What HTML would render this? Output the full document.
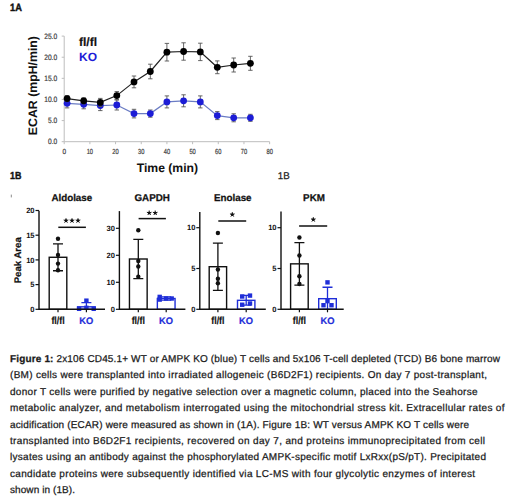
<!DOCTYPE html>
<html><head><meta charset="utf-8"><style>
html,body{margin:0;padding:0;background:#fff;width:520px;height:499px;overflow:hidden}
svg{display:block;font-family:"Liberation Sans", sans-serif;text-rendering:geometricPrecision}
</style></head><body>
<svg width="520" height="499" viewBox="0 0 520 499">
<text x="10" y="11.3" font-size="10.6" font-weight="bold" fill="#111" stroke="#111" stroke-width="0.45" textLength="11.8" lengthAdjust="spacingAndGlyphs">1A</text>
<line x1="64.2" y1="36.1" x2="64.2" y2="141.7" stroke="#bdbdbd" stroke-width="1"/>
<line x1="64.2" y1="141.7" x2="269.6" y2="141.7" stroke="#bdbdbd" stroke-width="1"/>
<line x1="61.7" y1="141.70" x2="64.2" y2="141.70" stroke="#bdbdbd" stroke-width="1"/>
<text x="57.2" y="144.40" font-size="7.8" text-anchor="end" fill="#3c3c3c" stroke="#3c3c3c" stroke-width="0.2" textLength="9.2" lengthAdjust="spacingAndGlyphs">0.0</text>
<line x1="61.7" y1="120.58" x2="64.2" y2="120.58" stroke="#bdbdbd" stroke-width="1"/>
<text x="57.2" y="123.28" font-size="7.8" text-anchor="end" fill="#3c3c3c" stroke="#3c3c3c" stroke-width="0.2" textLength="9.2" lengthAdjust="spacingAndGlyphs">5.0</text>
<line x1="61.7" y1="99.46" x2="64.2" y2="99.46" stroke="#bdbdbd" stroke-width="1"/>
<text x="57.2" y="102.16" font-size="7.8" text-anchor="end" fill="#3c3c3c" stroke="#3c3c3c" stroke-width="0.2" textLength="13" lengthAdjust="spacingAndGlyphs">10.0</text>
<line x1="61.7" y1="78.34" x2="64.2" y2="78.34" stroke="#bdbdbd" stroke-width="1"/>
<text x="57.2" y="81.04" font-size="7.8" text-anchor="end" fill="#3c3c3c" stroke="#3c3c3c" stroke-width="0.2" textLength="13" lengthAdjust="spacingAndGlyphs">15.0</text>
<line x1="61.7" y1="57.22" x2="64.2" y2="57.22" stroke="#bdbdbd" stroke-width="1"/>
<text x="57.2" y="59.92" font-size="7.8" text-anchor="end" fill="#3c3c3c" stroke="#3c3c3c" stroke-width="0.2" textLength="13" lengthAdjust="spacingAndGlyphs">20.0</text>
<line x1="61.7" y1="36.10" x2="64.2" y2="36.10" stroke="#bdbdbd" stroke-width="1"/>
<text x="57.2" y="38.80" font-size="7.8" text-anchor="end" fill="#3c3c3c" stroke="#3c3c3c" stroke-width="0.2" textLength="13" lengthAdjust="spacingAndGlyphs">25.0</text>
<line x1="64.20" y1="141.7" x2="64.20" y2="144.2" stroke="#bdbdbd" stroke-width="1"/>
<text x="62.40" y="154.0" font-size="7.4" fill="#3c3c3c" stroke="#3c3c3c" stroke-width="0.2" textLength="3.6" lengthAdjust="spacingAndGlyphs">0</text>
<line x1="89.88" y1="141.7" x2="89.88" y2="144.2" stroke="#bdbdbd" stroke-width="1"/>
<text x="86.68" y="154.0" font-size="7.4" fill="#3c3c3c" stroke="#3c3c3c" stroke-width="0.2" textLength="6.4" lengthAdjust="spacingAndGlyphs">10</text>
<line x1="115.56" y1="141.7" x2="115.56" y2="144.2" stroke="#bdbdbd" stroke-width="1"/>
<text x="112.36" y="154.0" font-size="7.4" fill="#3c3c3c" stroke="#3c3c3c" stroke-width="0.2" textLength="6.4" lengthAdjust="spacingAndGlyphs">20</text>
<line x1="141.24" y1="141.7" x2="141.24" y2="144.2" stroke="#bdbdbd" stroke-width="1"/>
<text x="138.04" y="154.0" font-size="7.4" fill="#3c3c3c" stroke="#3c3c3c" stroke-width="0.2" textLength="6.4" lengthAdjust="spacingAndGlyphs">30</text>
<line x1="166.92" y1="141.7" x2="166.92" y2="144.2" stroke="#bdbdbd" stroke-width="1"/>
<text x="163.72" y="154.0" font-size="7.4" fill="#3c3c3c" stroke="#3c3c3c" stroke-width="0.2" textLength="6.4" lengthAdjust="spacingAndGlyphs">40</text>
<line x1="192.60" y1="141.7" x2="192.60" y2="144.2" stroke="#bdbdbd" stroke-width="1"/>
<text x="189.40" y="154.0" font-size="7.4" fill="#3c3c3c" stroke="#3c3c3c" stroke-width="0.2" textLength="6.4" lengthAdjust="spacingAndGlyphs">50</text>
<line x1="218.28" y1="141.7" x2="218.28" y2="144.2" stroke="#bdbdbd" stroke-width="1"/>
<text x="215.08" y="154.0" font-size="7.4" fill="#3c3c3c" stroke="#3c3c3c" stroke-width="0.2" textLength="6.4" lengthAdjust="spacingAndGlyphs">60</text>
<line x1="243.96" y1="141.7" x2="243.96" y2="144.2" stroke="#bdbdbd" stroke-width="1"/>
<text x="240.76" y="154.0" font-size="7.4" fill="#3c3c3c" stroke="#3c3c3c" stroke-width="0.2" textLength="6.4" lengthAdjust="spacingAndGlyphs">70</text>
<line x1="269.64" y1="141.7" x2="269.64" y2="144.2" stroke="#bdbdbd" stroke-width="1"/>
<text x="266.44" y="154.0" font-size="7.4" fill="#3c3c3c" stroke="#3c3c3c" stroke-width="0.2" textLength="6.4" lengthAdjust="spacingAndGlyphs">80</text>
<text x="167.4" y="171.7" font-size="12.2" font-weight="bold" text-anchor="middle" fill="#111">Time (min)</text>
<text transform="translate(37.2,85.6) rotate(-90)" x="0" y="0" font-size="12.3" font-weight="bold" text-anchor="middle" fill="#111">ECAR (mpH/min)</text>
<text x="79" y="45.6" font-size="12" font-weight="bold" fill="#111" stroke="#111" stroke-width="0.2">fl/fl</text>
<text x="79" y="61.2" font-size="12" font-weight="bold" fill="#1c1cd6">KO</text>
<polyline points="67.1,103.3 83.7,104.3 100.3,105.6 116.8,105.0 134.0,113.6 150.3,113.6 166.9,101.9 183.6,100.8 200.3,101.9 217.3,115.6 233.7,117.8 250.4,117.8" fill="none" stroke="#6a7cc4" stroke-width="1.2"/>
<path d="M67.1,98.7V107.89999999999999M64.89999999999999,98.7H69.3M64.89999999999999,107.89999999999999H69.3" stroke="#555" stroke-width="0.9" fill="none"/>
<path d="M83.7,99.8V108.8M81.5,99.8H85.9M81.5,108.8H85.9" stroke="#555" stroke-width="0.9" fill="none"/>
<path d="M100.3,100.6V110.6M98.1,100.6H102.5M98.1,110.6H102.5" stroke="#555" stroke-width="0.9" fill="none"/>
<path d="M116.8,100.0V110.0M114.6,100.0H119.0M114.6,110.0H119.0" stroke="#555" stroke-width="0.9" fill="none"/>
<path d="M134.0,109.3V117.89999999999999M131.8,109.3H136.2M131.8,117.89999999999999H136.2" stroke="#555" stroke-width="0.9" fill="none"/>
<path d="M150.3,110.0V117.19999999999999M148.10000000000002,110.0H152.5M148.10000000000002,117.19999999999999H152.5" stroke="#555" stroke-width="0.9" fill="none"/>
<path d="M166.9,95.9V107.9M164.70000000000002,95.9H169.1M164.70000000000002,107.9H169.1" stroke="#555" stroke-width="0.9" fill="none"/>
<path d="M183.6,94.8V106.8M181.4,94.8H185.79999999999998M181.4,106.8H185.79999999999998" stroke="#555" stroke-width="0.9" fill="none"/>
<path d="M200.3,95.9V107.9M198.10000000000002,95.9H202.5M198.10000000000002,107.9H202.5" stroke="#555" stroke-width="0.9" fill="none"/>
<path d="M217.3,111.6V119.6M215.10000000000002,111.6H219.5M215.10000000000002,119.6H219.5" stroke="#555" stroke-width="0.9" fill="none"/>
<path d="M233.7,113.8V121.8M231.5,113.8H235.89999999999998M231.5,121.8H235.89999999999998" stroke="#555" stroke-width="0.9" fill="none"/>
<path d="M250.4,114.3V121.3M248.20000000000002,114.3H252.6M248.20000000000002,121.3H252.6" stroke="#555" stroke-width="0.9" fill="none"/>
<circle cx="67.1" cy="103.3" r="3.4" fill="#1c1cd6"/>
<circle cx="83.7" cy="104.3" r="3.4" fill="#1c1cd6"/>
<circle cx="100.3" cy="105.6" r="3.4" fill="#1c1cd6"/>
<circle cx="116.8" cy="105.0" r="3.4" fill="#1c1cd6"/>
<circle cx="134.0" cy="113.6" r="3.4" fill="#1c1cd6"/>
<circle cx="150.3" cy="113.6" r="3.4" fill="#1c1cd6"/>
<circle cx="166.9" cy="101.9" r="3.4" fill="#1c1cd6"/>
<circle cx="183.6" cy="100.8" r="3.4" fill="#1c1cd6"/>
<circle cx="200.3" cy="101.9" r="3.4" fill="#1c1cd6"/>
<circle cx="217.3" cy="115.6" r="3.4" fill="#1c1cd6"/>
<circle cx="233.7" cy="117.8" r="3.4" fill="#1c1cd6"/>
<circle cx="250.4" cy="117.8" r="3.4" fill="#1c1cd6"/>
<polyline points="67.1,98.6 83.7,100.8 100.3,102.4 116.8,95.6 134.0,81.9 150.3,71.5 166.9,52.2 183.6,51.5 200.3,51.9 217.3,67.3 233.7,65.0 250.4,63.3" fill="none" stroke="#222" stroke-width="1.2"/>
<path d="M67.1,95.6V101.6M64.89999999999999,95.6H69.3M64.89999999999999,101.6H69.3" stroke="#555" stroke-width="0.9" fill="none"/>
<path d="M83.7,97.8V103.8M81.5,97.8H85.9M81.5,103.8H85.9" stroke="#555" stroke-width="0.9" fill="none"/>
<path d="M100.3,98.4V106.4M98.1,98.4H102.5M98.1,106.4H102.5" stroke="#555" stroke-width="0.9" fill="none"/>
<path d="M116.8,91.6V99.6M114.6,91.6H119.0M114.6,99.6H119.0" stroke="#555" stroke-width="0.9" fill="none"/>
<path d="M134.0,76.0V87.80000000000001M131.8,76.0H136.2M131.8,87.80000000000001H136.2" stroke="#555" stroke-width="0.9" fill="none"/>
<path d="M150.3,64.2V78.8M148.10000000000002,64.2H152.5M148.10000000000002,78.8H152.5" stroke="#555" stroke-width="0.9" fill="none"/>
<path d="M166.9,43.400000000000006V61.0M164.70000000000002,43.400000000000006H169.1M164.70000000000002,61.0H169.1" stroke="#555" stroke-width="0.9" fill="none"/>
<path d="M183.6,42.8V60.2M181.4,42.8H185.79999999999998M181.4,60.2H185.79999999999998" stroke="#555" stroke-width="0.9" fill="none"/>
<path d="M200.3,43.2V60.599999999999994M198.10000000000002,43.2H202.5M198.10000000000002,60.599999999999994H202.5" stroke="#555" stroke-width="0.9" fill="none"/>
<path d="M217.3,60.9V73.7M215.10000000000002,60.9H219.5M215.10000000000002,73.7H219.5" stroke="#555" stroke-width="0.9" fill="none"/>
<path d="M233.7,58.0V72.0M231.5,58.0H235.89999999999998M231.5,72.0H235.89999999999998" stroke="#555" stroke-width="0.9" fill="none"/>
<path d="M250.4,56.3V70.3M248.20000000000002,56.3H252.6M248.20000000000002,70.3H252.6" stroke="#555" stroke-width="0.9" fill="none"/>
<circle cx="67.1" cy="98.6" r="3.4" fill="#000"/>
<circle cx="83.7" cy="100.8" r="3.4" fill="#000"/>
<circle cx="100.3" cy="102.4" r="3.4" fill="#000"/>
<circle cx="116.8" cy="95.6" r="3.4" fill="#000"/>
<circle cx="134.0" cy="81.9" r="3.4" fill="#000"/>
<circle cx="150.3" cy="71.5" r="3.4" fill="#000"/>
<circle cx="166.9" cy="52.2" r="3.4" fill="#000"/>
<circle cx="183.6" cy="51.5" r="3.4" fill="#000"/>
<circle cx="200.3" cy="51.9" r="3.4" fill="#000"/>
<circle cx="217.3" cy="67.3" r="3.4" fill="#000"/>
<circle cx="233.7" cy="65.0" r="3.4" fill="#000"/>
<circle cx="250.4" cy="63.3" r="3.4" fill="#000"/>
<text x="10" y="179" font-size="10.2" font-weight="bold" fill="#111" stroke="#111" stroke-width="0.4" textLength="11.4" lengthAdjust="spacingAndGlyphs">1B</text>
<rect x="10.8" y="194.6" width="1" height="2.8" fill="#8a8a8a"/>
<text x="277.8" y="179" font-size="9.8" fill="#222" stroke="#222" stroke-width="0.25">1B</text>
<text x="71.8" y="200.6" font-size="9.8" font-weight="bold" text-anchor="middle" fill="#111" stroke="#111" stroke-width="0.25">Aldolase</text>
<rect x="49.20" y="257.28" width="17.6" height="52.02" fill="#fff" stroke="#111" stroke-width="1.4"/>
<rect x="77.60" y="306.83" width="17.6" height="2.47" fill="#fff" stroke="#1f2ed8" stroke-width="1.4"/>
<path d="M58.0,243.80V270.77M53.0,243.80H63.0M53.0,270.77H63.0" stroke="#111" stroke-width="1.3" fill="none"/>
<path d="M86.4,302.63V309.30M81.4,302.63H91.4M81.4,309.30H91.4" stroke="#1f2ed8" stroke-width="1.3" fill="none"/>
<circle cx="58.0" cy="238.81" r="2.2" fill="#111"/>
<circle cx="58.0" cy="255.01" r="2.2" fill="#111"/>
<circle cx="58.0" cy="263.61" r="2.2" fill="#111"/>
<circle cx="58.0" cy="270.27" r="2.2" fill="#111"/>
<rect x="84.20" y="298.46" width="4.4" height="4.4" fill="#1f2ed8"/>
<rect x="76.90" y="306.61" width="4.4" height="4.4" fill="#1f2ed8"/>
<rect x="91.50" y="306.61" width="4.4" height="4.4" fill="#1f2ed8"/>
<rect x="84.20" y="305.62" width="4.4" height="4.4" fill="#1f2ed8"/>
<line x1="39.0" y1="210.7" x2="39.0" y2="310.0" stroke="#111" stroke-width="1.4"/>
<line x1="39.0" y1="309.3" x2="105.0" y2="309.3" stroke="#111" stroke-width="1.4"/>
<line x1="35.5" y1="309.30" x2="39.0" y2="309.30" stroke="#111" stroke-width="1.2"/>
<text x="34.6" y="312.00" font-size="7.6" font-weight="bold" text-anchor="end" fill="#111">0</text>
<line x1="35.5" y1="284.60" x2="39.0" y2="284.60" stroke="#111" stroke-width="1.2"/>
<text x="34.6" y="287.30" font-size="7.6" font-weight="bold" text-anchor="end" fill="#111">5</text>
<line x1="35.5" y1="259.90" x2="39.0" y2="259.90" stroke="#111" stroke-width="1.2"/>
<text x="34.6" y="262.60" font-size="7.6" font-weight="bold" text-anchor="end" fill="#111">10</text>
<line x1="35.5" y1="235.20" x2="39.0" y2="235.20" stroke="#111" stroke-width="1.2"/>
<text x="34.6" y="237.90" font-size="7.6" font-weight="bold" text-anchor="end" fill="#111">15</text>
<line x1="35.5" y1="210.50" x2="39.0" y2="210.50" stroke="#111" stroke-width="1.2"/>
<text x="34.6" y="213.20" font-size="7.6" font-weight="bold" text-anchor="end" fill="#111">20</text>
<line x1="58.0" y1="309.3" x2="58.0" y2="312.3" stroke="#111" stroke-width="1.2"/>
<line x1="86.4" y1="309.3" x2="86.4" y2="312.3" stroke="#111" stroke-width="1.2"/>
<text x="51.40" y="323.5" font-size="10.3" font-weight="bold" fill="#111" stroke="#111" stroke-width="0.2" textLength="13.2" lengthAdjust="spacingAndGlyphs">fl/fl</text>
<text x="79.30" y="323.5" font-size="9.5" font-weight="bold" fill="#1f2ed8" stroke="#1f2ed8" stroke-width="0.2" textLength="14" lengthAdjust="spacingAndGlyphs">KO</text>
<line x1="58.3" y1="227.3" x2="85.9" y2="227.3" stroke="#111" stroke-width="1.5"/>
<circle cx="66.00" cy="220.7" r="1.35" fill="#111"/><path d="M66.00,220.70L66.00,218.65M66.00,220.70L67.95,220.07M66.00,220.70L64.05,220.07M66.00,220.70L64.80,222.36M66.00,220.70L67.20,222.36" stroke="#111" stroke-width="1.0" stroke-linecap="round"/>
<circle cx="72.00" cy="220.7" r="1.35" fill="#111"/><path d="M72.00,220.70L72.00,218.65M72.00,220.70L73.95,220.07M72.00,220.70L70.05,220.07M72.00,220.70L70.80,222.36M72.00,220.70L73.20,222.36" stroke="#111" stroke-width="1.0" stroke-linecap="round"/>
<circle cx="78.00" cy="220.7" r="1.35" fill="#111"/><path d="M78.00,220.70L78.00,218.65M78.00,220.70L79.95,220.07M78.00,220.70L76.05,220.07M78.00,220.70L76.80,222.36M78.00,220.70L79.20,222.36" stroke="#111" stroke-width="1.0" stroke-linecap="round"/>
<text x="152.2" y="200.6" font-size="9.8" font-weight="bold" text-anchor="middle" fill="#111" stroke="#111" stroke-width="0.25">GAPDH</text>
<rect x="129.45" y="259.00" width="17.7" height="50.30" fill="#fff" stroke="#111" stroke-width="1.4"/>
<rect x="157.35" y="298.50" width="17.7" height="10.80" fill="#fff" stroke="#1f2ed8" stroke-width="1.4"/>
<path d="M138.3,239.29V278.71M133.3,239.29H143.3M133.3,278.71H143.3" stroke="#111" stroke-width="1.3" fill="none"/>
<path d="M166.2,296.88V300.12M161.2,296.88H171.2M161.2,300.12H171.2" stroke="#1f2ed8" stroke-width="1.3" fill="none"/>
<circle cx="138.3" cy="230.19" r="2.2" fill="#111"/>
<circle cx="138.3" cy="260.97" r="2.2" fill="#111"/>
<circle cx="138.3" cy="266.50" r="2.2" fill="#111"/>
<circle cx="138.3" cy="276.71" r="2.2" fill="#111"/>
<rect x="157.50" y="294.68" width="4.4" height="4.4" fill="#1f2ed8"/>
<rect x="157.50" y="297.38" width="4.4" height="4.4" fill="#1f2ed8"/>
<rect x="164.00" y="296.30" width="4.4" height="4.4" fill="#1f2ed8"/>
<rect x="169.50" y="296.30" width="4.4" height="4.4" fill="#1f2ed8"/>
<line x1="119.4" y1="211.1" x2="119.4" y2="310.0" stroke="#111" stroke-width="1.4"/>
<line x1="119.4" y1="309.3" x2="185.4" y2="309.3" stroke="#111" stroke-width="1.4"/>
<line x1="115.9" y1="309.30" x2="119.4" y2="309.30" stroke="#111" stroke-width="1.2"/>
<text x="115.0" y="312.00" font-size="7.6" font-weight="bold" text-anchor="end" fill="#111">0</text>
<line x1="115.9" y1="282.30" x2="119.4" y2="282.30" stroke="#111" stroke-width="1.2"/>
<text x="115.0" y="285.00" font-size="7.6" font-weight="bold" text-anchor="end" fill="#111">10</text>
<line x1="115.9" y1="255.30" x2="119.4" y2="255.30" stroke="#111" stroke-width="1.2"/>
<text x="115.0" y="258.00" font-size="7.6" font-weight="bold" text-anchor="end" fill="#111">20</text>
<line x1="115.9" y1="228.30" x2="119.4" y2="228.30" stroke="#111" stroke-width="1.2"/>
<text x="115.0" y="231.00" font-size="7.6" font-weight="bold" text-anchor="end" fill="#111">30</text>
<line x1="138.3" y1="309.3" x2="138.3" y2="312.3" stroke="#111" stroke-width="1.2"/>
<line x1="166.2" y1="309.3" x2="166.2" y2="312.3" stroke="#111" stroke-width="1.2"/>
<text x="131.70" y="323.5" font-size="10.3" font-weight="bold" fill="#111" stroke="#111" stroke-width="0.2" textLength="13.2" lengthAdjust="spacingAndGlyphs">fl/fl</text>
<text x="159.10" y="323.5" font-size="9.5" font-weight="bold" fill="#1f2ed8" stroke="#1f2ed8" stroke-width="0.2" textLength="14" lengthAdjust="spacingAndGlyphs">KO</text>
<line x1="138.6" y1="218.6" x2="165.9" y2="218.6" stroke="#111" stroke-width="1.5"/>
<circle cx="149.20" cy="213" r="1.35" fill="#111"/><path d="M149.20,213.00L149.20,210.95M149.20,213.00L151.15,212.37M149.20,213.00L147.25,212.37M149.20,213.00L148.00,214.66M149.20,213.00L150.40,214.66" stroke="#111" stroke-width="1.0" stroke-linecap="round"/>
<circle cx="155.20" cy="213" r="1.35" fill="#111"/><path d="M155.20,213.00L155.20,210.95M155.20,213.00L157.15,212.37M155.20,213.00L153.25,212.37M155.20,213.00L154.00,214.66M155.20,213.00L156.40,214.66" stroke="#111" stroke-width="1.0" stroke-linecap="round"/>
<text x="232.8" y="200.6" font-size="9.8" font-weight="bold" text-anchor="middle" fill="#111" stroke="#111" stroke-width="0.25">Enolase</text>
<rect x="209.20" y="266.70" width="17.4" height="42.60" fill="#fff" stroke="#111" stroke-width="1.4"/>
<rect x="237.50" y="300.32" width="17.4" height="8.98" fill="#fff" stroke="#1f2ed8" stroke-width="1.4"/>
<path d="M217.9,243.04V290.37M212.9,243.04H222.9M212.9,290.37H222.9" stroke="#111" stroke-width="1.3" fill="none"/>
<path d="M246.2,295.43V305.22M241.2,295.43H251.2M241.2,305.22H251.2" stroke="#1f2ed8" stroke-width="1.3" fill="none"/>
<circle cx="217.9" cy="233.00" r="2.2" fill="#111"/>
<circle cx="217.9" cy="269.56" r="2.2" fill="#111"/>
<circle cx="217.9" cy="278.70" r="2.2" fill="#111"/>
<circle cx="217.9" cy="283.19" r="2.2" fill="#111"/>
<rect x="240.00" y="294.29" width="4.4" height="4.4" fill="#1f2ed8"/>
<rect x="247.80" y="293.39" width="4.4" height="4.4" fill="#1f2ed8"/>
<rect x="240.00" y="302.53" width="4.4" height="4.4" fill="#1f2ed8"/>
<rect x="247.80" y="301.31" width="4.4" height="4.4" fill="#1f2ed8"/>
<line x1="199.8" y1="212.0" x2="199.8" y2="310.0" stroke="#111" stroke-width="1.4"/>
<line x1="199.8" y1="309.3" x2="265.8" y2="309.3" stroke="#111" stroke-width="1.4"/>
<line x1="196.3" y1="309.30" x2="199.8" y2="309.30" stroke="#111" stroke-width="1.2"/>
<text x="195.4" y="312.00" font-size="7.6" font-weight="bold" text-anchor="end" fill="#111">0</text>
<line x1="196.3" y1="268.50" x2="199.8" y2="268.50" stroke="#111" stroke-width="1.2"/>
<text x="195.4" y="271.20" font-size="7.6" font-weight="bold" text-anchor="end" fill="#111">5</text>
<line x1="196.3" y1="227.70" x2="199.8" y2="227.70" stroke="#111" stroke-width="1.2"/>
<text x="195.4" y="230.40" font-size="7.6" font-weight="bold" text-anchor="end" fill="#111">10</text>
<line x1="217.9" y1="309.3" x2="217.9" y2="312.3" stroke="#111" stroke-width="1.2"/>
<line x1="246.2" y1="309.3" x2="246.2" y2="312.3" stroke="#111" stroke-width="1.2"/>
<text x="211.30" y="323.5" font-size="10.3" font-weight="bold" fill="#111" stroke="#111" stroke-width="0.2" textLength="13.2" lengthAdjust="spacingAndGlyphs">fl/fl</text>
<text x="239.10" y="323.5" font-size="9.5" font-weight="bold" fill="#1f2ed8" stroke="#1f2ed8" stroke-width="0.2" textLength="14" lengthAdjust="spacingAndGlyphs">KO</text>
<line x1="218.3" y1="221" x2="246.2" y2="221" stroke="#111" stroke-width="1.5"/>
<circle cx="232.30" cy="214.6" r="1.35" fill="#111"/><path d="M232.30,214.60L232.30,212.55M232.30,214.60L234.25,213.97M232.30,214.60L230.35,213.97M232.30,214.60L231.10,216.26M232.30,214.60L233.50,216.26" stroke="#111" stroke-width="1.0" stroke-linecap="round"/>
<text x="314.0" y="200.6" font-size="9.8" font-weight="bold" text-anchor="middle" fill="#111" stroke="#111" stroke-width="0.25">PKM</text>
<rect x="290.60" y="263.85" width="17.6" height="45.45" fill="#fff" stroke="#111" stroke-width="1.4"/>
<rect x="318.70" y="298.69" width="17.6" height="10.61" fill="#fff" stroke="#1f2ed8" stroke-width="1.4"/>
<path d="M299.4,242.63V285.06M294.4,242.63H304.4M294.4,285.06H304.4" stroke="#111" stroke-width="1.3" fill="none"/>
<path d="M327.5,287.27V309.30M322.5,287.27H332.5M322.5,309.30H332.5" stroke="#1f2ed8" stroke-width="1.3" fill="none"/>
<circle cx="299.4" cy="237.49" r="2.2" fill="#111"/>
<circle cx="299.4" cy="255.44" r="2.2" fill="#111"/>
<circle cx="299.4" cy="276.25" r="2.2" fill="#111"/>
<circle cx="299.4" cy="284.00" r="2.2" fill="#111"/>
<rect x="325.30" y="280.17" width="4.4" height="4.4" fill="#1f2ed8"/>
<rect x="321.30" y="303.02" width="4.4" height="4.4" fill="#1f2ed8"/>
<rect x="329.30" y="303.02" width="4.4" height="4.4" fill="#1f2ed8"/>
<rect x="325.30" y="298.94" width="4.4" height="4.4" fill="#1f2ed8"/>
<line x1="281.0" y1="211.5" x2="281.0" y2="310.0" stroke="#111" stroke-width="1.4"/>
<line x1="281.0" y1="309.3" x2="343.7" y2="309.3" stroke="#111" stroke-width="1.4"/>
<line x1="277.5" y1="309.30" x2="281.0" y2="309.30" stroke="#111" stroke-width="1.2"/>
<text x="276.6" y="312.00" font-size="7.6" font-weight="bold" text-anchor="end" fill="#111">0</text>
<line x1="277.5" y1="268.50" x2="281.0" y2="268.50" stroke="#111" stroke-width="1.2"/>
<text x="276.6" y="271.20" font-size="7.6" font-weight="bold" text-anchor="end" fill="#111">5</text>
<line x1="277.5" y1="227.70" x2="281.0" y2="227.70" stroke="#111" stroke-width="1.2"/>
<text x="276.6" y="230.40" font-size="7.6" font-weight="bold" text-anchor="end" fill="#111">10</text>
<line x1="299.4" y1="309.3" x2="299.4" y2="312.3" stroke="#111" stroke-width="1.2"/>
<line x1="327.5" y1="309.3" x2="327.5" y2="312.3" stroke="#111" stroke-width="1.2"/>
<text x="292.80" y="323.5" font-size="10.3" font-weight="bold" fill="#111" stroke="#111" stroke-width="0.2" textLength="13.2" lengthAdjust="spacingAndGlyphs">fl/fl</text>
<text x="320.40" y="323.5" font-size="9.5" font-weight="bold" fill="#1f2ed8" stroke="#1f2ed8" stroke-width="0.2" textLength="14" lengthAdjust="spacingAndGlyphs">KO</text>
<line x1="299.1" y1="226" x2="327.2" y2="226" stroke="#111" stroke-width="1.5"/>
<circle cx="313.30" cy="219.6" r="1.35" fill="#111"/><path d="M313.30,219.60L313.30,217.55M313.30,219.60L315.25,218.97M313.30,219.60L311.35,218.97M313.30,219.60L312.10,221.26M313.30,219.60L314.50,221.26" stroke="#111" stroke-width="1.0" stroke-linecap="round"/>
<text transform="translate(21.2,260.3) rotate(-90)" font-size="9.6" stroke="#111" stroke-width="0.2" font-weight="bold" text-anchor="middle" fill="#111">Peak Area</text>
<text x="10" y="361.80" font-size="10" fill="#1a1a1a" stroke="#1a1a1a" stroke-width="0.25" textLength="490" lengthAdjust="spacing"><tspan font-weight="bold">Figure 1:</tspan> 2x106 CD45.1+ WT or AMPK KO (blue) T cells and 5x106 T-cell depleted (TCD) B6 bone marrow</text>
<text x="10" y="378.24" font-size="10" fill="#1a1a1a" stroke="#1a1a1a" stroke-width="0.25" textLength="477" lengthAdjust="spacing">(BM) cells were transplanted into irradiated allogeneic (B6D2F1) recipients. On day 7 post-transplant,</text>
<text x="10" y="394.68" font-size="10" fill="#1a1a1a" stroke="#1a1a1a" stroke-width="0.25" textLength="467.5" lengthAdjust="spacing">donor T cells were purified by negative selection over a magnetic column, placed into the Seahorse</text>
<text x="10" y="411.12" font-size="10" fill="#1a1a1a" stroke="#1a1a1a" stroke-width="0.25" textLength="494.5" lengthAdjust="spacing">metabolic analyzer, and metabolism interrogated using the mitochondrial stress kit. Extracellular rates of</text>
<text x="10" y="427.56" font-size="10" fill="#1a1a1a" stroke="#1a1a1a" stroke-width="0.25" textLength="459" lengthAdjust="spacing">acidification (ECAR) were measured as shown in (1A). Figure 1B: WT versus AMPK KO T cells were</text>
<text x="10" y="444.00" font-size="10" fill="#1a1a1a" stroke="#1a1a1a" stroke-width="0.25" textLength="475" lengthAdjust="spacing">transplanted into B6D2F1 recipients, recovered on day 7, and proteins immunoprecipitated from cell</text>
<text x="10" y="460.44" font-size="10" fill="#1a1a1a" stroke="#1a1a1a" stroke-width="0.25" textLength="476" lengthAdjust="spacing">lysates using an antibody against the phosphorylated AMPK-specific motif LxRxx(pS/pT). Precipitated</text>
<text x="10" y="476.88" font-size="10" fill="#1a1a1a" stroke="#1a1a1a" stroke-width="0.25" textLength="465" lengthAdjust="spacing">candidate proteins were subsequently identified via LC-MS with four glycolytic enzymes of interest</text>
<text x="10" y="493.32" font-size="10" fill="#1a1a1a" stroke="#1a1a1a" stroke-width="0.25" textLength="65" lengthAdjust="spacing">shown in (1B).</text>
</svg>
</body></html>
